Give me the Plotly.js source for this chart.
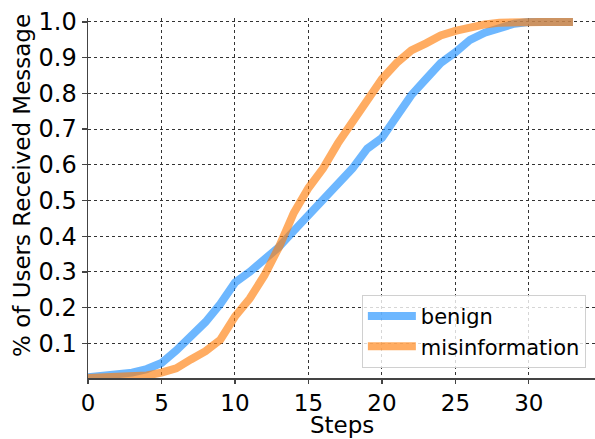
<!DOCTYPE html>
<html>
<head>
<meta charset="utf-8">
<script src="https://cdn.plot.ly/plotly-3.0.1.min.js"></script>
<style>html,body{margin:0;padding:0;background:#fff;}#chart{width:595px;height:439px;}</style>
</head>
<body>
<div id="chart"></div>
<script>
const steps = [0,1,2,3,4,5,6,7,8,9,10,11,12,13,14,15,16,17,18,19,20,21,22,23,24,25,26,27,28,29,30,31,32,33];
const benign = [0.005,0.008,0.012,0.018,0.028,0.045,0.08,0.12,0.16,0.21,0.27,0.30,0.335,0.37,0.415,0.46,0.50,0.55,0.59,0.645,0.675,0.735,0.795,0.84,0.885,0.915,0.95,0.97,0.985,0.995,1.0,1.0,1.0,1.0];
const misinformation = [0.003,0.004,0.005,0.006,0.01,0.018,0.03,0.055,0.078,0.11,0.175,0.225,0.29,0.37,0.465,0.535,0.59,0.66,0.72,0.78,0.84,0.885,0.92,0.94,0.962,0.975,0.985,0.993,0.998,1.0,1.0,1.0,1.0,1.0];
const seriesNames = ['benign','misinformation'];
const xTicks = [0,5,10,15,20,25,30];
const yTicks = [0.1,0.2,0.3,0.4,0.5,0.6,0.7,0.8,0.9,1.0];
const yTickText = ['0.1','0.2','0.3','0.4','0.5','0.6','0.7','0.8','0.9','1.0'];
const xTitle = 'Steps';
const yTitle = '% of Users Received Message';

const font = {family: 'DejaVu Sans', size: 24, color: '#000'};
const tickFont = {family: 'DejaVu Sans', size: 23, color: '#000'};
const traces = [
  {x: steps, y: benign, name: seriesNames[0], mode: 'lines',
   line: {color: 'rgba(30,144,255,0.65)', width: 8}},
  {x: steps, y: misinformation, name: seriesNames[1], mode: 'lines',
   line: {color: 'rgba(255,127,14,0.65)', width: 8}}
];
const layout = {
  width: 595, height: 439,
  margin: {l: 88, r: 0, t: 18, b: 61},
  paper_bgcolor: '#fff', plot_bgcolor: '#fff',
  font: font,
  showlegend: true,
  legend: {x: 0.982, y: 0.028, xanchor: 'right', yanchor: 'bottom',
    bgcolor: 'rgba(255,255,255,0.8)', bordercolor: '#d0d0d0', borderwidth: 1,
    font: {family: 'DejaVu Sans', size: 21, color: '#000'}, itemwidth: 48,
    tracegroupgap: 0},
  xaxis: {
    range: [0, 34.5], tickvals: xTicks, ticktext: xTicks.map(String),
    showgrid: true, gridcolor: '#333', griddash: 'dot', gridwidth: 1,
    zeroline: false, showline: true, linecolor: '#444', linewidth: 1.5,
    ticks: 'outside', ticklen: 4, tickcolor: '#444', tickwidth: 1.2,
    tickfont: tickFont, automargin: false
  },
  yaxis: {
    range: [0.003, 1.011], tickvals: yTicks, ticktext: yTickText,
    showgrid: true, gridcolor: '#333', griddash: 'dot', gridwidth: 1,
    zeroline: false, showline: true, linecolor: '#444', linewidth: 1.5,
    ticks: 'outside', ticklen: 5, tickcolor: '#444', tickwidth: 1.2,
    tickfont: font, automargin: false
  },
  annotations: [{
    text: yTitle, textangle: -90, showarrow: false,
    xref: 'paper', yref: 'paper', x: (22 - 88) / 507, y: (378 - 186) / 360,
    xanchor: 'center', yanchor: 'middle',
    font: {family: 'DejaVu Sans', size: 23, color: '#000'}
  }, {
    text: xTitle, showarrow: false,
    xref: 'paper', yref: 'paper', x: 0.5, y: (378 - 425) / 360,
    xanchor: 'center', yanchor: 'middle',
    font: {family: 'DejaVu Sans', size: 23, color: '#000'}
  }]
};
Plotly.newPlot('chart', traces, layout, {displayModeBar: false, staticPlot: true});
</script>
</body>
</html>
